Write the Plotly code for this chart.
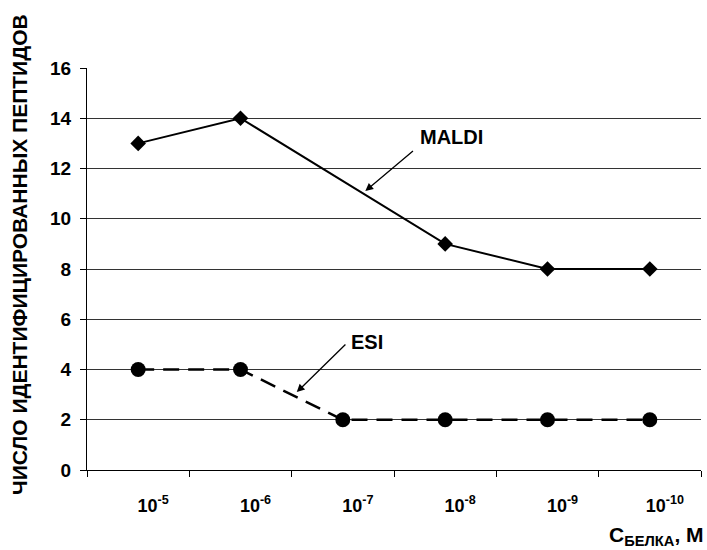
import plotly.graph_objects as go

categories = ["1e-5", "1e-6", "1e-7", "1e-8", "1e-9", "1e-10"]
tick_labels = ["10<sup>-5</sup>", "10<sup>-6</sup>", "10<sup>-7</sup>",
               "10<sup>-8</sup>", "10<sup>-9</sup>", "10<sup>-10</sup>"]
maldi = [13, 14, None, 9, 8, 8]
esi = [4, 4, 2, 2, 2, 2]
y_ticks = [0, 2, 4, 6, 8, 10, 12, 14, 16]

FONT = "Liberation Sans, Arial, sans-serif"

fig = go.Figure()
fig.add_trace(go.Scatter(
    x=categories, y=esi, mode="lines+markers", name="ESI",
    line=dict(color="black", width=2.5, dash="16px,9px"),
    marker=dict(symbol="circle", size=15, color="black"),
))
fig.add_trace(go.Scatter(
    x=categories, y=maldi, mode="lines+markers", name="MALDI",
    connectgaps=True,
    line=dict(color="black", width=2),
    marker=dict(symbol="diamond", size=12, color="black"),
))

fig.update_layout(
    width=707, height=550,
    margin=dict(l=87, r=6, t=68, b=80, autoexpand=False),
    paper_bgcolor="white", plot_bgcolor="white",
    showlegend=False,
    font=dict(family=FONT, color="black"),
    xaxis=dict(
        type="category", categoryorder="array", categoryarray=categories,
        tickmode="array", tickvals=categories,
        ticktext=["<b>" + t + "</b>" for t in tick_labels],
        tickson="boundaries", ticks="outside", ticklen=6, tickwidth=1,
        tickcolor="black", showline=True, linecolor="black", linewidth=1,
        showgrid=False, tickfont=dict(size=18, family=FONT),
        ticklabelstandoff=19, ticklabelshift=15,
        range=[-0.5, 5.5], automargin=False,
    ),
    yaxis=dict(
        range=[0, 16], tickvals=y_ticks,
        ticktext=["<b>%d</b>" % v for v in y_ticks],
        ticks="outside", ticklen=6, tickcolor="black",
        showline=True, linecolor="black", linewidth=1,
        showgrid=True, gridcolor="#333", gridwidth=1.2,
        zeroline=False, tickfont=dict(size=19, family=FONT),
        ticklabelstandoff=5, automargin=False,
    ),
)

annotations = [
    dict(x=-0.109, y=0.535, xref="paper", yref="paper", textangle=-90,
         text="<b>ЧИСЛО ИДЕНТИФИЦИРОВАННЫХ ПЕПТИДОВ</b>", showarrow=False,
         xanchor="center", yanchor="middle",
         font=dict(size=21, family=FONT)),
    dict(x=3.06, y=13.25, xref="x", yref="y", text="<b>MALDI</b>",
         showarrow=False, font=dict(size=20, family=FONT)),
    dict(x=2.22, y=11.1, ax=2.70, ay=12.75, xref="x", yref="y",
         axref="x", ayref="y", text="", showarrow=True,
         arrowhead=2, arrowsize=1.2, arrowwidth=1.3, arrowcolor="black"),
    dict(x=2.24, y=5.1, xref="x", yref="y", text="<b>ESI</b>",
         showarrow=False, font=dict(size=20, family=FONT)),
    dict(x=1.55, y=3.1, ax=2.04, ay=5.05, xref="x", yref="y",
         axref="x", ayref="y", text="", showarrow=True,
         arrowhead=2, arrowsize=1.2, arrowwidth=1.3, arrowcolor="black"),
    dict(x=1, y=-0.165, xref="paper", yref="paper", xanchor="right",
         yanchor="middle", xshift=5,
         text="<b>C<sub>БЕЛКА</sub>, M</b>", showarrow=False,
         font=dict(size=21, family=FONT)),
]
fig.update_layout(annotations=annotations)

fig.write_html(
    "out.html",
    config={"displayModeBar": False},
    post_script="document.body.style.margin='0';"
                "document.body.style.overflow='hidden';",
)
